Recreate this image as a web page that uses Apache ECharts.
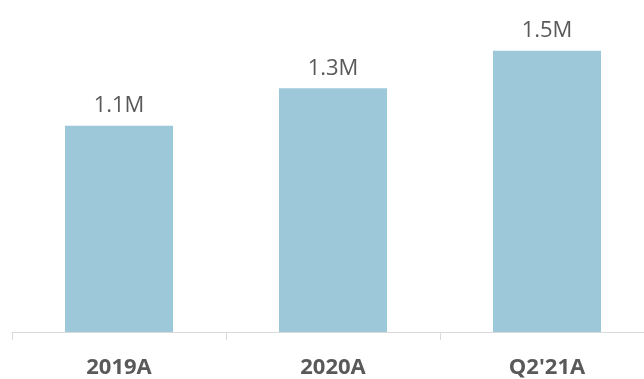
<!DOCTYPE html>
<html><head><meta charset="utf-8">
<script src="https://cdn.jsdelivr.net/npm/echarts@6/dist/echarts.min.js"></script>
<style>html,body{margin:0;padding:0;background:#fff;overflow:hidden;width:644px;height:379px}#c{width:654px;height:379px}</style>
</head><body><div id="c"></div>
<script>
const categories = ["2019A", "2020A", "Q2'21A"];
const values = [1.1, 1.3, 1.5];
const valueLabels = ["1.1M", "1.3M", "1.5M"];

const chart = echarts.init(document.getElementById('c'), null, {renderer: 'canvas'});
chart.setOption({
  animation: false,
  grid: {left: 12, right: 0, top: 32, bottom: 47, containLabel: false},
  xAxis: {
    type: 'category', data: categories,
    axisLine: {lineStyle: {color: '#d9d9d9', width: 1}},
    axisTick: {show: true, length: 8, lineStyle: {color: '#d9d9d9'}},
    axisLabel: {color: '#595959', fontSize: 22, fontWeight: 'bold', fontFamily: 'Open Sans', margin: 25}
  },
  yAxis: {type: 'value', min: 0, max: 1.6, show: false, splitLine: {show: false}},
  series: [{
    type: 'bar', data: values, barWidth: '50.5%',
    itemStyle: {color: '#9dc8d9'},
    label: {show: true, position: 'top', distance: 9, color: '#595959', fontSize: 22, fontFamily: 'Open Sans',
      formatter: p => valueLabels[p.dataIndex]}
  }]
});
</script></body></html>
